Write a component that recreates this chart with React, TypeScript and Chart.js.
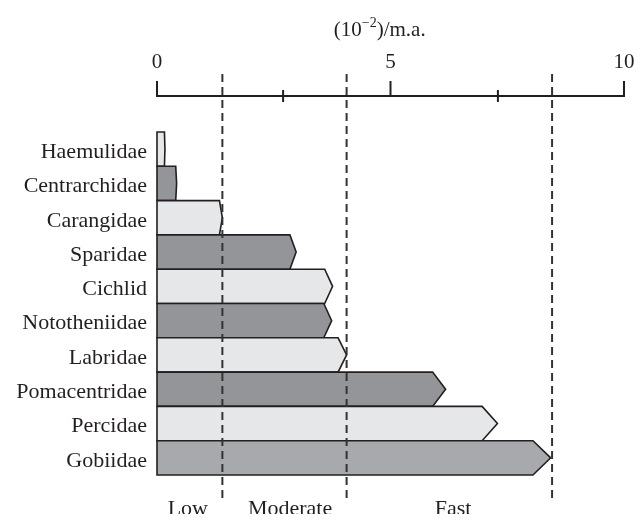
import React, { useEffect, useRef } from "react";
import { Chart, registerables } from "chart.js";

Chart.register(...registerables);

const categories = [
  "Haemulidae",
  "Centrarchidae",
  "Carangidae",
  "Sparidae",
  "Cichlid",
  "Nototheniidae",
  "Labridae",
  "Pomacentridae",
  "Percidae",
  "Gobiidae",
];
const rates = [0.17, 0.42, 1.4, 2.98, 3.76, 3.74, 4.06, 6.18, 7.29, 8.43];
const barColors = [
  "#e6e7e8",
  "#939598",
  "#e6e7e8",
  "#939598",
  "#e6e7e8",
  "#939598",
  "#e6e7e8",
  "#939598",
  "#e6e7e8",
  "#a7a9ac",
];
const majorTicks = [0, 5, 10];
const minorTicks = [2.7, 7.3];
const thresholds = [1.4, 4.06, 8.46];
const zoneLabels = ["Low", "Moderate", "Fast"];
const zoneLabelPos = [0.66, 2.85, 6.34];
const titleParts = ["(10", "\u22122", ")/m.a."];
const titleCenter = 4.77;

const INK = "#231f20";
const SERIF = "'Liberation Serif', 'Times New Roman', serif";

const customPlugin = {
  id: "arrowBarsAndAxis",
  beforeDatasetDraw() {
    return false;
  },
  afterDatasetsDraw(chart: any) {
    const ctx = chart.ctx;
    const meta = chart.getDatasetMeta(0);
    const xs = chart.scales.x;
    const area = chart.chartArea;
    ctx.save();
    // arrow bars
    meta.data.forEach((el: any, i: number) => {
      const { x, y, base, height } = el.getProps(["x", "y", "base", "height"], true);
      const len = x - base;
      const d = Math.max(0.5, len * 0.045);
      const top = y - height / 2;
      const bot = y + height / 2;
      ctx.beginPath();
      ctx.moveTo(base, top);
      ctx.lineTo(x - d, top);
      ctx.lineTo(x, y);
      ctx.lineTo(x - d, bot);
      ctx.lineTo(base, bot);
      ctx.closePath();
      ctx.fillStyle = barColors[i];
      ctx.fill();
      ctx.lineWidth = 1.6;
      ctx.strokeStyle = INK;
      ctx.lineJoin = "miter";
      ctx.stroke();
    });

    const axisY = area.top - 36;
    // axis line
    ctx.beginPath();
    ctx.lineWidth = 2;
    ctx.strokeStyle = INK;
    ctx.moveTo(xs.getPixelForValue(0), axisY);
    ctx.lineTo(xs.getPixelForValue(10), axisY);
    ctx.stroke();
    majorTicks.forEach((v) => {
      const px = xs.getPixelForValue(v);
      ctx.beginPath();
      ctx.moveTo(px, axisY - 15);
      ctx.lineTo(px, axisY + 1);
      ctx.stroke();
    });
    minorTicks.forEach((v) => {
      const px = xs.getPixelForValue(v);
      ctx.beginPath();
      ctx.moveTo(px, axisY - 6);
      ctx.lineTo(px, axisY + 6);
      ctx.stroke();
    });

    // dashed thresholds
    ctx.setLineDash([8, 5]);
    ctx.strokeStyle = "#333333";
    ctx.lineWidth = 2;
    thresholds.forEach((v) => {
      const px = xs.getPixelForValue(v);
      ctx.beginPath();
      ctx.moveTo(px, axisY - 22);
      ctx.lineTo(px, area.bottom + 23);
      ctx.stroke();
    });
    ctx.setLineDash([]);

    // zone labels (clipped at bottom like the reference)
    ctx.save();
    ctx.beginPath();
    ctx.rect(0, 0, chart.width, area.bottom + 39);
    ctx.clip();
    ctx.fillStyle = INK;
    ctx.font = `22px ${SERIF}`;
    ctx.textAlign = "center";
    ctx.textBaseline = "alphabetic";
    zoneLabels.forEach((t, i) => {
      ctx.fillText(t, xs.getPixelForValue(zoneLabelPos[i]), area.bottom + 40);
    });
    ctx.restore();

    // axis title with superscript
    ctx.fillStyle = INK;
    ctx.textBaseline = "alphabetic";
    ctx.textAlign = "left";
    const bigFont = `21px ${SERIF}`;
    const smallFont = `14px ${SERIF}`;
    ctx.font = bigFont;
    const w0 = ctx.measureText(titleParts[0]).width;
    const w2 = ctx.measureText(titleParts[2]).width;
    ctx.font = smallFont;
    const w1 = ctx.measureText(titleParts[1]).width;
    const total = w0 + w1 + w2;
    let cx = xs.getPixelForValue(titleCenter) - total / 2;
    const baseY = 36;
    ctx.font = bigFont;
    ctx.fillText(titleParts[0], cx, baseY);
    cx += w0;
    ctx.font = smallFont;
    ctx.fillText(titleParts[1], cx, baseY - 9);
    cx += w1;
    ctx.font = bigFont;
    ctx.fillText(titleParts[2], cx, baseY);
    ctx.restore();
  },
};

export default function App() {
  const ref = useRef<HTMLCanvasElement | null>(null);
  useEffect(() => {
    if (!ref.current) return;
    const chart = new Chart(ref.current, {
      type: "bar",
      data: {
        labels: categories,
        datasets: [
          {
            data: rates,
            backgroundColor: barColors,
            borderColor: INK,
            borderWidth: 1.6,
            categoryPercentage: 1,
            barPercentage: 1,
          },
        ],
      },
      options: {
        indexAxis: "y",
        responsive: false,
        animation: false,
        events: [],
        layout: { padding: { top: 0, left: 0, right: 19, bottom: 53 } },
        plugins: {
          legend: { display: false },
          tooltip: { enabled: false },
        },
        scales: {
          x: {
            type: "linear",
            position: "top",
            min: 0,
            max: 10,
            ticks: {
              stepSize: 5,
              padding: 0,
              color: INK,
              font: { family: SERIF, size: 21 },
              maxRotation: 0,
            },
            grid: { display: false, drawTicks: true, tickLength: 57 },
            border: { display: false },
            afterFit: (s: any) => {
              s.height = 132;
            },
          },
          y: {
            type: "category",
            ticks: {
              padding: 10,
              labelOffset: 3,
              color: INK,
              font: { family: SERIF, size: 22 },
            },
            grid: { display: false, drawTicks: false },
            border: { display: false },
            afterFit: (s: any) => {
              s.width = 157;
            },
          },
        },
      },
      plugins: [customPlugin],
    });
    return () => chart.destroy();
  }, []);
  return (
    <div style={{ position: "absolute", left: 0, top: 0, width: 643, height: 528, background: "#fff" }}>
      <canvas ref={ref} width={643} height={528} style={{ display: "block" }} />
    </div>
  );
}
